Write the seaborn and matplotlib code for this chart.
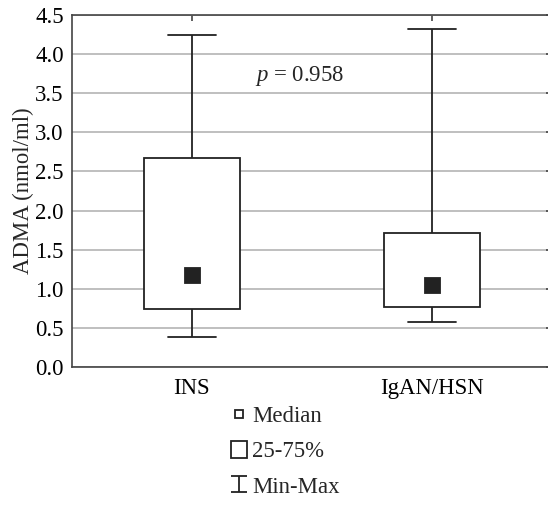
import matplotlib
matplotlib.use("Agg")
import matplotlib.pyplot as plt
import seaborn as sns
import pandas as pd
from matplotlib.lines import Line2D
from matplotlib.patches import Rectangle
from matplotlib.path import Path

# summary values (nmol/ml)
groups = ["INS", "IgAN/HSN"]
adma_min = [0.38, 0.57]
adma_q1 = [0.74, 0.77]
adma_median = [1.17, 1.05]
adma_q3 = [2.67, 1.71]
adma_max = [4.25, 4.32]
y_ticks = [0.0, 0.5, 1.0, 1.5, 2.0, 2.5, 3.0, 3.5, 4.0, 4.5]
p_value = "0.958"

# five points per group reproduce min / quartiles / median exactly
rows = []
for i, g in enumerate(groups):
    for v in (adma_min[i], adma_q1[i], adma_median[i], adma_q3[i], adma_max[i]):
        rows.append({"group": g, "adma": v})
df = pd.DataFrame(rows)

sns.set_style("white")
plt.rcParams["font.family"] = ["Liberation Serif", "DejaVu Serif"]
plt.rcParams["font.size"] = 16.4
plt.rcParams["mathtext.fontset"] = "custom"
plt.rcParams["mathtext.rm"] = "Liberation Serif"
plt.rcParams["mathtext.it"] = "Liberation Serif:italic"

ink = "#222222"
fig = plt.figure(figsize=(5.48, 5.05), dpi=100)
ax = fig.add_axes([0.1314, 0.2733, 0.875, 0.697])

sns.boxplot(
    data=df, x="group", y="adma", order=groups, ax=ax,
    whis=(0, 100), width=0.4, color="white", linecolor=ink, linewidth=1.3,
    saturation=1, fliersize=0, medianprops={"visible": False},
)
sns.pointplot(
    data=df, x="group", y="adma", order=groups, ax=ax,
    estimator="median", errorbar=None, marker="s", markersize=10,
    linestyle="none", color=ink,
)

ax.set_xlim(-0.5, 1.5)
ax.set_ylim(0, 4.5)
ax.set_yticks(y_ticks)
ax.set_yticklabels([f"{t:.1f}" for t in y_ticks])
ax.yaxis.grid(True, color="#b4b4b4", linewidth=1.2)
ax.set_axisbelow(True)
for s in ax.spines.values():
    s.set_color("#444444")
    s.set_linewidth(1.2)
ax.tick_params(direction="in", top=True, right=True, length=4, width=1.2,
               color="#444444", labelcolor="black")
ax.tick_params(axis="x", pad=8)
ax.tick_params(axis="y", pad=6)
ax.set_xlabel("")
ax.set_ylabel("ADMA (nmol/ml)", labelpad=1)

ax.text(0.263, 3.66, f"$p$ = {p_value}", ha="left", va="baseline")

# legend below the plot
ibeam = Path(
    [(-1, 1), (1, 1), (0, 1), (0, -1), (-1, -1), (1, -1)],
    [Path.MOVETO, Path.LINETO, Path.MOVETO, Path.LINETO, Path.MOVETO, Path.LINETO],
)
handles = [
    Line2D([], [], marker="s", markersize=5.5, markerfacecolor="white",
           markeredgecolor=ink, markeredgewidth=1.3, linestyle="none"),
    Rectangle((0, 0), 1, 1, facecolor="white", edgecolor=ink, linewidth=1.3),
    Line2D([], [], marker=ibeam, markersize=11, markerfacecolor="none",
           markeredgecolor=ink, markeredgewidth=1.3, linestyle="none"),
]
labels = ["Median", "25-75%", "Min-Max"]
fig.legend(handles, labels, loc="upper left", bbox_to_anchor=(220 / 548, 1 - 394 / 505),
           frameon=False, borderpad=0, handlelength=0.7, handleheight=0.8,
           handletextpad=0.2, labelspacing=0.6)

fig.savefig("out.png", dpi=100)
